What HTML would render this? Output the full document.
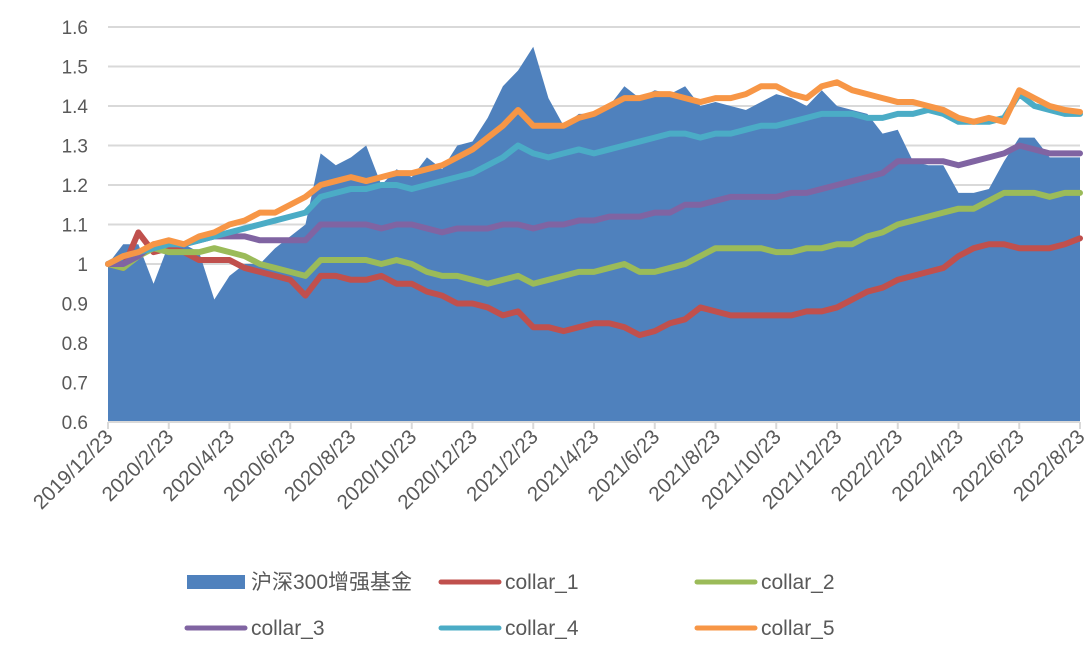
<!DOCTYPE html>
<html><head><meta charset="utf-8"><style>
body{margin:0;background:#fff;width:1089px;height:654px;overflow:hidden}
svg text{font-family:"Liberation Sans","Noto Sans CJK SC",sans-serif;fill:#595959}
</style></head><body>
<svg id="chart" width="1089" height="654" xmlns="http://www.w3.org/2000/svg"></svg>
<script>
const xLabels=["2019/12/23","2020/2/23","2020/4/23","2020/6/23","2020/8/23","2020/10/23","2020/12/23","2021/2/23","2021/4/23","2021/6/23","2021/8/23","2021/10/23","2021/12/23","2022/2/23","2022/4/23","2022/6/23","2022/8/23"];
const yTicks=[0.6,0.7,0.8,0.9,1,1.1,1.2,1.3,1.4,1.5,1.6];
const fund=[1.00,1.05,1.05,0.95,1.05,1.05,1.03,0.91,0.97,1.00,1.00,1.04,1.07,1.10,1.28,1.25,1.27,1.30,1.20,1.24,1.22,1.27,1.24,1.30,1.31,1.37,1.45,1.49,1.55,1.42,1.35,1.38,1.38,1.40,1.45,1.42,1.44,1.43,1.45,1.40,1.41,1.40,1.39,1.41,1.43,1.42,1.40,1.44,1.40,1.39,1.38,1.33,1.34,1.26,1.25,1.25,1.18,1.18,1.19,1.26,1.32,1.32,1.27,1.27,1.27];
const collar1=[1.00,0.99,1.08,1.03,1.04,1.03,1.01,1.01,1.01,0.99,0.98,0.97,0.96,0.92,0.97,0.97,0.96,0.96,0.97,0.95,0.95,0.93,0.92,0.90,0.90,0.89,0.87,0.88,0.84,0.84,0.83,0.84,0.85,0.85,0.84,0.82,0.83,0.85,0.86,0.89,0.88,0.87,0.87,0.87,0.87,0.87,0.88,0.88,0.89,0.91,0.93,0.94,0.96,0.97,0.98,0.99,1.02,1.04,1.05,1.05,1.04,1.04,1.04,1.05,1.065];
const collar2=[1.00,0.99,1.02,1.04,1.03,1.03,1.03,1.04,1.03,1.02,1.00,0.99,0.98,0.97,1.01,1.01,1.01,1.01,1.00,1.01,1.00,0.98,0.97,0.97,0.96,0.95,0.96,0.97,0.95,0.96,0.97,0.98,0.98,0.99,1.00,0.98,0.98,0.99,1.00,1.02,1.04,1.04,1.04,1.04,1.03,1.03,1.04,1.04,1.05,1.05,1.07,1.08,1.10,1.11,1.12,1.13,1.14,1.14,1.16,1.18,1.18,1.18,1.17,1.18,1.18];
const collar3=[1.00,1.00,1.02,1.05,1.05,1.05,1.06,1.07,1.07,1.07,1.06,1.06,1.06,1.06,1.10,1.10,1.10,1.10,1.09,1.10,1.10,1.09,1.08,1.09,1.09,1.09,1.10,1.10,1.09,1.10,1.10,1.11,1.11,1.12,1.12,1.12,1.13,1.13,1.15,1.15,1.16,1.17,1.17,1.17,1.17,1.18,1.18,1.19,1.20,1.21,1.22,1.23,1.26,1.26,1.26,1.26,1.25,1.26,1.27,1.28,1.30,1.29,1.28,1.28,1.28];
const collar4=[1.00,1.02,1.03,1.04,1.05,1.05,1.06,1.07,1.08,1.09,1.10,1.11,1.12,1.13,1.17,1.18,1.19,1.19,1.20,1.20,1.19,1.20,1.21,1.22,1.23,1.25,1.27,1.30,1.28,1.27,1.28,1.29,1.28,1.29,1.30,1.31,1.32,1.33,1.33,1.32,1.33,1.33,1.34,1.35,1.35,1.36,1.37,1.38,1.38,1.38,1.37,1.37,1.38,1.38,1.39,1.38,1.36,1.36,1.36,1.37,1.43,1.40,1.39,1.38,1.38];
const collar5=[1.00,1.02,1.03,1.05,1.06,1.05,1.07,1.08,1.10,1.11,1.13,1.13,1.15,1.17,1.20,1.21,1.22,1.21,1.22,1.23,1.23,1.24,1.25,1.27,1.29,1.32,1.35,1.39,1.35,1.35,1.35,1.37,1.38,1.40,1.42,1.42,1.43,1.43,1.42,1.41,1.42,1.42,1.43,1.45,1.45,1.43,1.42,1.45,1.46,1.44,1.43,1.42,1.41,1.41,1.40,1.39,1.37,1.36,1.37,1.36,1.44,1.42,1.40,1.39,1.385];

const NS="http://www.w3.org/2000/svg";
const svg=document.getElementById('chart');
const X0=108,X1=1080,Y0=422,Y1=27;
const n=fund.length;
function xs(i){return X0+(X1-X0)*i/(n-1);}
function ys(v){return Y0-(v-0.6)/(1.0)*(Y0-Y1);}
function mk(t,a){const e=document.createElementNS(NS,t);for(const k in a)e.setAttribute(k,a[k]);svg.appendChild(e);return e;}

yTicks.forEach((t,k)=>{
  const g=mk('line',{x1:X0,x2:X1,y1:ys(t),y2:ys(t),stroke:'#d9d9d9','stroke-width':2});
  
  
  const tx=mk('text',{x:88,y:ys(t)+7,'text-anchor':'end','font-size':19});
  tx.textContent=String(t);
  
  
});

let d='M'+xs(0)+','+ys(0.6);
fund.forEach((v,i)=>{d+=' L'+xs(i)+','+ys(v);});
d+=' L'+xs(n-1)+','+ys(0.6)+' Z';
const area=mk('path',{d:d,fill:'#4f81bd'});



const ax=mk('line',{x1:X0,x2:X1,y1:Y0,y2:Y0,stroke:'#d9d9d9','stroke-width':2});



xLabels.forEach((l,k)=>{
  const x=X0+(X1-X0)*k/(xLabels.length-1);
  const tk=mk('line',{x1:x,x2:x,y1:Y0,y2:Y0+7,stroke:'#d9d9d9','stroke-width':2});
  
  
  const tx=mk('text',{x:x+6,y:Y0+16,'text-anchor':'end','font-size':20.5,transform:`rotate(-45 ${x+6} ${Y0+16})`});
  tx.textContent=l;
  
  
});

const series=[[collar1,'#c0504d','collar-1-line'],[collar2,'#9bbb59','collar-2-line'],[collar3,'#8064a2','collar-3-line'],[collar4,'#4bacc6','collar-4-line'],[collar5,'#f79646','collar-5-line']];
series.forEach(s=>{
  const pts=s[0].map((v,i)=>xs(i)+','+ys(v)).join(' ');
  const p=mk('polyline',{points:pts,fill:'none',stroke:s[1],'stroke-width':6,'stroke-linejoin':'round','stroke-linecap':'round'});
  
  
});

const leg=[['沪深300增强基金','#4f81bd',187,582,true],['collar_1','#c0504d',441,582],['collar_2','#9bbb59',697,582],['collar_3','#8064a2',187,628],['collar_4','#4bacc6',441,628],['collar_5','#f79646',697,628]];
leg.forEach(L=>{
  let sw;
  if(L[4]) sw=mk('rect',{x:L[2],y:L[3]-7,width:58,height:14,fill:L[1]});
  else sw=mk('line',{x1:L[2],x2:L[2]+58,y1:L[3],y2:L[3],stroke:L[1],'stroke-width':5,'stroke-linecap':'round'});
  
  
  const t=mk('text',{x:L[2]+64,y:L[3]+7,'font-size':21});
  t.textContent=L[0];
  
  
});
</script>
</body></html>
